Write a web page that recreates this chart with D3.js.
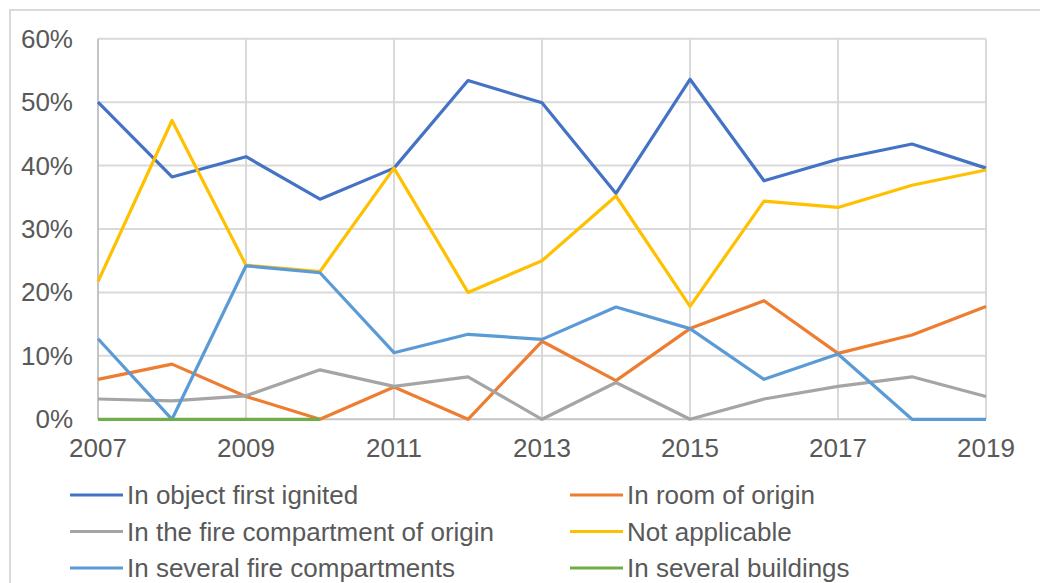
<!DOCTYPE html>
<html>
<head>
<meta charset="utf-8">
<script src="https://cdn.jsdelivr.net/npm/d3@7"></script>
<style>
  html, body { margin: 0; padding: 0; background: #fff; }
  svg { display: block; }
  text { font-family: "Liberation Sans", Arial, Helvetica, sans-serif; fill: #595959; }
</style>
</head>
<body>
<svg id="chart" width="1040" height="583"></svg>
<script>
const years = [2007, 2008, 2009, 2010, 2011, 2012, 2013, 2014, 2015, 2016, 2017, 2018, 2019];
const xTickLabels = [2007, 2009, 2011, 2013, 2015, 2017, 2019];
const yTickValues = [0, 10, 20, 30, 40, 50, 60];

const seriesNames = [
  "In object first ignited",
  "In room of origin",
  "In the fire compartment of origin",
  "Not applicable",
  "In several fire compartments",
  "In several buildings"
];
const seriesColors = ["#4472C4", "#ED7D31", "#A5A5A5", "#FFC000", "#5B9BD5", "#70AD47"];

const objectFirstIgnited = [50.0, 38.2, 41.4, 34.7, 39.6, 53.4, 49.9, 35.6, 53.6, 37.6, 41.0, 43.4, 39.6];
const roomOfOrigin = [6.3, 8.7, 3.6, 0, 5.1, 0, 12.3, 6.1, 14.3, 18.7, 10.4, 13.3, 17.8];
const fireCompartmentOfOrigin = [3.2, 2.9, 3.7, 7.8, 5.2, 6.7, 0, 5.8, 0, 3.2, 5.2, 6.7, 3.6];
const notApplicable = [21.7, 47.1, 24.3, 23.3, 39.6, 20.0, 25.0, 35.2, 17.8, 34.4, 33.4, 36.9, 39.3];
const severalFireCompartments = [12.7, 0, 24.2, 23.1, 10.5, 13.4, 12.6, 17.7, 14.3, 6.3, 10.3, 0, 0];
const severalBuildings = [0, 0, 0, 0, null, null, null, null, null, null, null, null, null];

const seriesValues = [objectFirstIgnited, roomOfOrigin, fireCompartmentOfOrigin, notApplicable, severalFireCompartments, severalBuildings];

const svg = d3.select("#chart");
const plotLeft = 98, plotRight = 986, plotTop = 38.7, plotBottom = 419.3;

const x = d3.scaleLinear().domain([2007, 2019]).range([plotLeft, plotRight]);
const y = d3.scaleLinear().domain([0, 60]).range([plotBottom, plotTop]);

// outer frame
svg.append("rect")
  .attr("x", 10).attr("y", 10).attr("width", 1100).attr("height", 700)
  .attr("fill", "none").attr("stroke", "#d9d9d9").attr("stroke-width", 2);

// horizontal gridlines
svg.append("g").selectAll("line").data(yTickValues.filter(v => v > 0)).join("line")
  .attr("x1", plotLeft).attr("x2", plotRight)
  .attr("y1", d => y(d)).attr("y2", d => y(d))
  .attr("stroke", "#d9d9d9").attr("stroke-width", 2);

// vertical gridlines
svg.append("g").selectAll("line").data(xTickLabels.filter(v => v > 2007)).join("line")
  .attr("x1", d => x(d)).attr("x2", d => x(d))
  .attr("y1", plotTop).attr("y2", plotBottom)
  .attr("stroke", "#d9d9d9").attr("stroke-width", 2);

// axis lines
svg.append("line").attr("x1", x(2007)).attr("x2", x(2007)).attr("y1", plotTop).attr("y2", plotBottom)
  .attr("stroke", "#c4c4c4").attr("stroke-width", 2);
svg.append("line").attr("x1", plotLeft).attr("x2", plotRight).attr("y1", y(0)).attr("y2", y(0))
  .attr("stroke", "#c4c4c4").attr("stroke-width", 2);

// y tick labels
svg.append("g").selectAll("text").data(yTickValues).join("text")
  .attr("x", 73).attr("y", d => y(d) + 9)
  .attr("text-anchor", "end").attr("font-size", 26)
  .text(d => d + "%");

// x tick labels
svg.append("g").selectAll("text").data(xTickLabels).join("text")
  .attr("x", d => x(d)).attr("y", 457)
  .attr("text-anchor", "middle").attr("font-size", 26)
  .text(d => d);

// lines
const line = d3.line()
  .defined(d => d.v !== null)
  .x(d => x(d.year)).y(d => y(d.v));

seriesValues.forEach((vals, i) => {
  svg.append("path")
    .datum(years.map((yr, j) => ({ year: yr, v: vals[j] })))
    .attr("d", line)
    .attr("fill", "none")
    .attr("stroke", seriesColors[i])
    .attr("stroke-width", 3.2)
    .attr("stroke-linejoin", "round");
});

// legend
const legendCols = [70, 570];
const legendRows = [495, 531.5, 568];
const lg = svg.append("g").selectAll("g").data(seriesNames).join("g")
  .attr("transform", (d, i) => `translate(${legendCols[i % 2]},${legendRows[Math.floor(i / 2)]})`);
lg.append("line").attr("x1", 0).attr("x2", 53).attr("y1", 0).attr("y2", 0)
  .attr("stroke", (d, i) => seriesColors[i]).attr("stroke-width", 3.2);
lg.append("text").attr("x", 57).attr("y", 9).attr("font-size", 26).text(d => d);
</script>
</body>
</html>
